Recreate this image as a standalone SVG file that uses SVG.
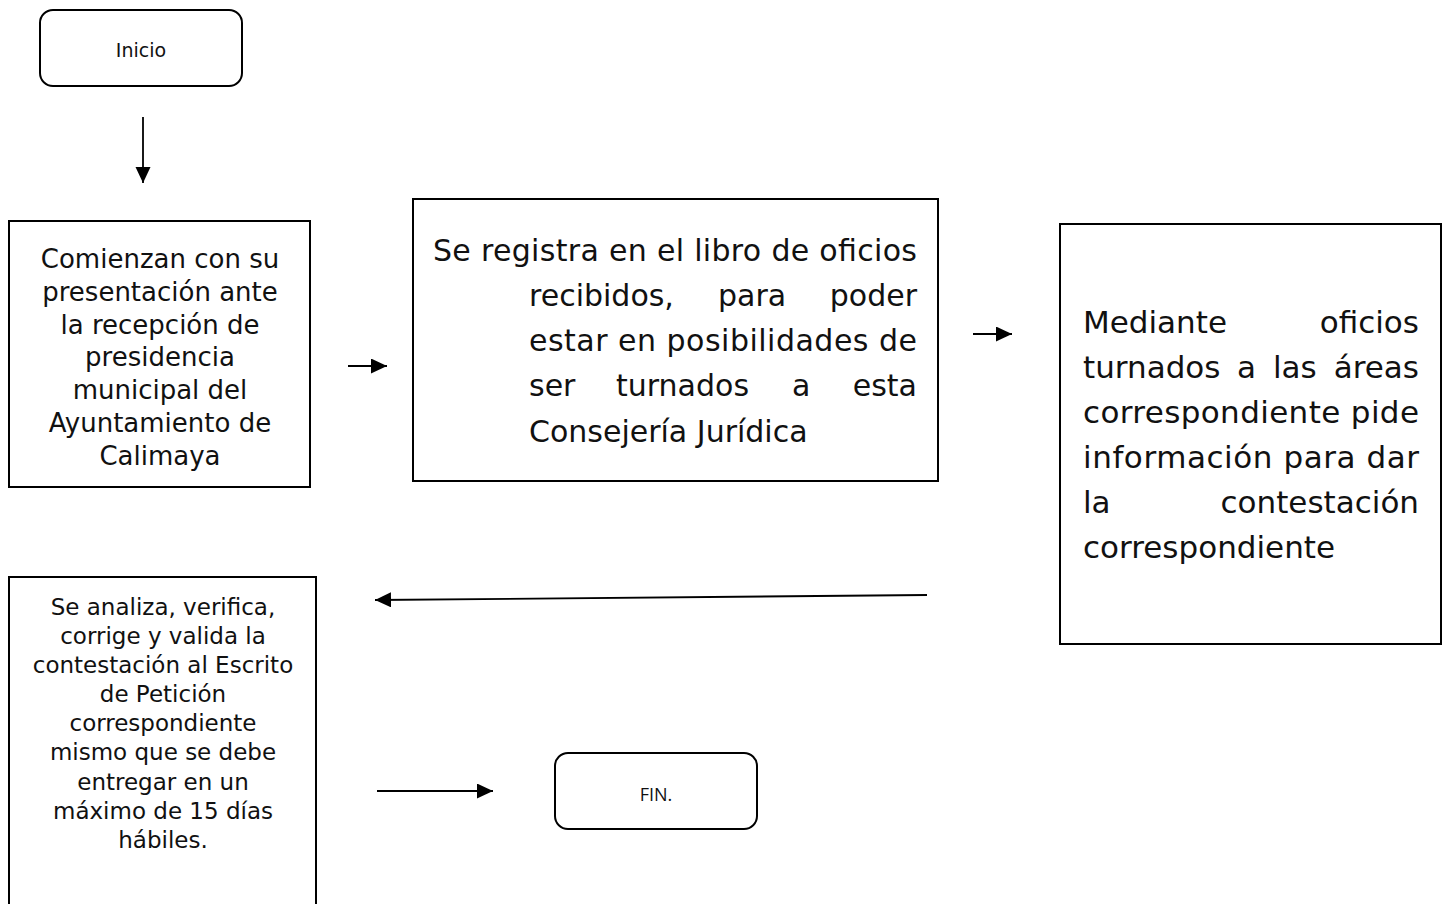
<svg xmlns="http://www.w3.org/2000/svg" width="1447" height="904" viewBox="0 0 1447 904">
<style>
  .box { fill: #ffffff; stroke: #000000; stroke-width: 2; }
  .conn { stroke: #000000; stroke-width: 1.8; fill: none; marker-end: url(#arrow); }
  .t { font-family: "DejaVu Sans", "Liberation Sans", sans-serif; fill: #111111; }
  .c { text-anchor: middle; }
  .e { text-anchor: end; }
  .b1 { font-size: 26px; }
  .b2 { font-size: 30px; }
  .b3 { font-size: 31px; }
  .b4 { font-size: 23px; }
  .term { font-size: 19px; }
  .fin { font-family: "Open Sans", "Noto Sans", sans-serif; font-size: 18px; fill: #111111; }
</style>
<defs>
  <marker id="arrow" markerUnits="userSpaceOnUse" markerWidth="16" markerHeight="16" refX="16" refY="7.5" orient="auto">
    <path d="M0,0 L16,7.5 L0,15 z" fill="#000000"/>
  </marker>
</defs>
<rect width="1447" height="904" fill="#ffffff"/>

<g id="connectors">
  <line class="conn" x1="143" y1="117" x2="143" y2="183"/>
  <line class="conn" x1="348" y1="366" x2="387" y2="366"/>
  <line class="conn" x1="973" y1="334" x2="1012" y2="334"/>
  <line class="conn" x1="927" y1="595" x2="375" y2="600"/>
  <line class="conn" x1="377" y1="791" x2="493" y2="791"/>
</g>

<g id="inicio">
  <rect class="box" x="40" y="10" width="202" height="76" rx="13"/>
  <text class="t c term" x="141" y="57">Inicio</text>
</g>

<g id="recepcion">
  <rect class="box" x="9" y="221" width="301" height="266"/>
  <text class="t c b1" x="160" y="268">Comienzan con su</text>
  <text class="t c b1" x="160" y="301">presentación ante</text>
  <text class="t c b1" x="160" y="334">la recepción de</text>
  <text class="t c b1" x="160" y="366">presidencia</text>
  <text class="t c b1" x="160" y="399">municipal del</text>
  <text class="t c b1" x="160" y="432">Ayuntamiento de</text>
  <text class="t c b1" x="160" y="465">Calimaya</text>
</g>

<g id="registro">
  <rect class="box" x="413" y="199" width="525" height="282"/>
  <text class="t b2" x="433" y="261" textLength="484">Se registra en el libro de oficios</text>
  <text class="t b2" x="529" y="306">recibidos,</text>
  <text class="t b2" x="718" y="306">para</text>
  <text class="t b2 e" x="917" y="306">poder</text>
  <text class="t b2" x="529" y="351" textLength="388">estar en posibilidades de</text>
  <text class="t b2" x="529" y="396">ser</text>
  <text class="t b2" x="616" y="396">turnados</text>
  <text class="t b2" x="792" y="396">a</text>
  <text class="t b2 e" x="917" y="396">esta</text>
  <text class="t b2" x="529" y="442">Consejería Jurídica</text>
</g>

<g id="oficios">
  <rect class="box" x="1060" y="224" width="381" height="420"/>
  <text class="t b3" x="1083" y="333">Mediante</text>
  <text class="t b3 e" x="1419" y="333">oficios</text>
  <text class="t b3" x="1083" y="378">turnados</text>
  <text class="t b3" x="1237" y="378">a</text>
  <text class="t b3" x="1273" y="378">las</text>
  <text class="t b3 e" x="1419" y="378">áreas</text>
  <text class="t b3" x="1083" y="423" textLength="336">correspondiente pide</text>
  <text class="t b3" x="1083" y="468" textLength="336">información para dar</text>
  <text class="t b3" x="1083" y="513">la</text>
  <text class="t b3 e" x="1419" y="513">contestación</text>
  <text class="t b3" x="1083" y="558">correspondiente</text>
</g>

<g id="validacion">
  <rect class="box" x="9" y="577" width="307" height="345"/>
  <text class="t c b4" x="163" y="615">Se analiza, verifica,</text>
  <text class="t c b4" x="163" y="644">corrige y valida la</text>
  <text class="t c b4" x="163" y="673">contestación al Escrito</text>
  <text class="t c b4" x="163" y="702">de Petición</text>
  <text class="t c b4" x="163" y="731">correspondiente</text>
  <text class="t c b4" x="163" y="760">mismo que se debe</text>
  <text class="t c b4" x="163" y="790">entregar en un</text>
  <text class="t c b4" x="163" y="819">máximo de 15 días</text>
  <text class="t c b4" x="163" y="848">hábiles.</text>
</g>

<g id="fin">
  <rect class="box" x="555" y="753" width="202" height="76" rx="13"/>
  <text class="fin c" x="656" y="801">FIN.</text>
</g>
</svg>
